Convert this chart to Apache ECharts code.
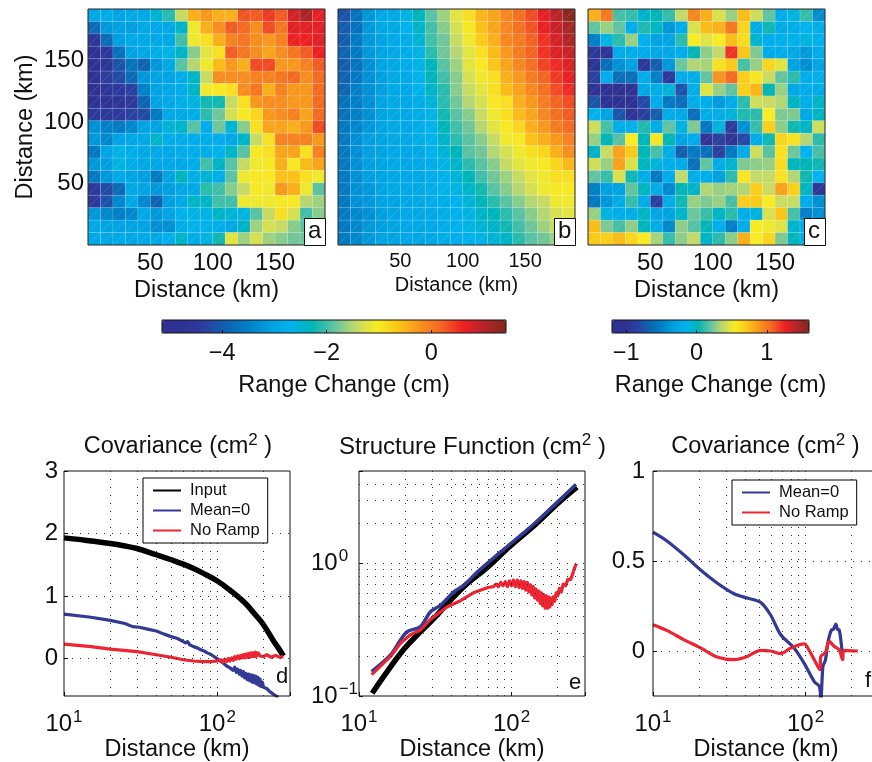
<!DOCTYPE html>
<html>
<head>
<meta charset="utf-8">
<style>
  html, body { margin: 0; padding: 0; background: #fff; }
  #chart { width: 872px; height: 762px; overflow: hidden; }
</style>
</head>
<body>
<div id="chart"></div>
<script src="https://cdn.jsdelivr.net/npm/echarts@6/dist/echarts.min.js"></script>
<script>
// range change (cm), rows run top to bottom
const dataA = [
  [-2.9,-2.8,-3.0,-2.9,-2.9,-2.5,-2.1,-1.4,-0.45,-0.25,-0.45,-0.45,0.3,0.25,0.45,0.25,0.8,1.1,0.65],
  [-3.8,-3.2,-3.1,-3.1,-2.9,-2.9,-2.9,-2.4,-1.1,-0.45,-0.15,0.25,0.15,-0.15,0.35,0.05,0.7,0.7,0.7],
  [-4.6,-3.8,-3.1,-2.9,-2.9,-2.9,-2.9,-2.0,-1.1,-0.9,-0.45,-0.05,0.05,-0.15,-0.25,-0.05,0.6,0.6,0.7],
  [-4.7,-4.5,-3.7,-3.0,-2.9,-2.8,-2.6,-2.4,-1.7,-1.2,-0.9,0.25,0.05,-0.15,-0.35,-0.15,0.05,0.25,0.6],
  [-4.7,-4.6,-4.1,-3.7,-3.9,-3.2,-2.9,-1.9,-1.5,-1.1,-0.55,-0.25,-0.45,0.35,0.35,-0.25,-0.25,-0.05,0.25],
  [-4.7,-4.4,-4.2,-3.8,-3.2,-3.0,-3.0,-2.8,-2.4,-1.4,-0.15,-0.15,-0.15,-0.05,-0.05,0.05,0.15,-0.15,0.15],
  [-4.7,-4.6,-4.5,-4.3,-3.5,-3.0,-2.9,-2.8,-2.4,-1.1,-1.0,-0.9,-0.15,0.05,-0.45,-0.05,-0.25,-0.25,0.15],
  [-4.7,-4.7,-4.6,-4.5,-3.9,-3.0,-2.9,-2.8,-2.6,-2.2,-2.2,-1.4,-0.9,-0.25,-0.15,-0.15,-0.25,-0.25,0.15],
  [-4.5,-4.5,-4.5,-4.3,-4.2,-3.6,-2.9,-2.9,-2.8,-2.1,-1.8,-1.3,-1.0,-0.8,-0.25,-0.15,-0.05,-0.35,0.15],
  [-3.3,-3.5,-3.6,-3.4,-3.0,-3.0,-2.5,-2.4,-1.9,-2.8,-1.8,-2.5,-1.7,-0.9,-0.35,-0.35,-0.45,-0.25,0.35],
  [-3.2,-3.4,-3.0,-2.9,-2.9,-2.4,-2.8,-2.8,-2.8,-2.8,-2.8,-2.9,-2.4,-1.4,-0.9,-0.05,-0.05,-0.05,-0.25],
  [-3.6,-3.0,-2.6,-2.8,-2.9,-2.9,-2.9,-2.8,-2.8,-2.8,-2.7,-2.4,-1.9,-1.0,-0.9,-0.35,-0.35,-0.9,-0.05],
  [-3.2,-3.1,-2.6,-2.8,-2.9,-2.9,-2.9,-2.9,-2.8,-2.0,-2.4,-1.9,-1.4,-1.1,-1.0,-0.45,-1.0,-0.55,-0.35],
  [-3.6,-3.2,-2.9,-3.0,-3.1,-3.6,-3.0,-2.3,-2.8,-2.5,-2.8,-1.9,-1.1,-1.0,-1.0,-0.6,-0.6,-0.9,-1.1],
  [-4.5,-4.2,-3.8,-2.9,-3.0,-3.2,-3.1,-2.9,-2.9,-2.1,-2.0,-1.7,-1.4,-1.0,-1.1,-0.25,-0.45,-1.1,-1.9],
  [-4.5,-4.1,-3.4,-2.9,-3.4,-3.9,-3.1,-2.9,-2.4,-2.4,-2.0,-2.0,-1.1,-1.1,-1.1,-1.0,-1.0,-1.5,-1.6],
  [-3.2,-3.4,-3.5,-3.4,-2.9,-3.2,-3.0,-2.7,-2.6,-2.6,-2.4,-2.5,-2.6,-1.9,-1.4,-0.9,-1.3,-2.0,-1.7],
  [-2.9,-3.0,-3.0,-3.0,-3.0,-3.3,-3.3,-2.8,-2.7,-2.7,-2.8,-2.9,-2.4,-1.6,-1.3,-1.4,-1.7,-1.9,-1.9],
  [-2.9,-2.9,-2.9,-2.9,-2.9,-2.9,-2.7,-2.4,-2.8,-2.6,-2.2,-1.2,-1.6,-1.3,-1.6,-1.7,-1.8,-1.8,-1.8]
]
const dataB = [
  [-4.1,-3.7,-3.2,-2.9,-2.9,-2.6,-2.3,-1.9,-1.6,-1.2,-0.9,-0.5,-0.35,-0.1,0.1,0.35,0.65,1.0,1.35],
  [-4.0,-3.7,-3.2,-2.9,-2.9,-2.7,-2.4,-2.0,-1.7,-1.3,-1.0,-0.6,-0.35,-0.1,0.1,0.3,0.65,0.9,1.15],
  [-4.0,-3.6,-3.2,-3.0,-2.9,-2.8,-2.5,-2.0,-1.8,-1.4,-1.1,-0.7,-0.45,-0.1,0.0,0.2,0.5,0.8,1.05],
  [-3.9,-3.6,-3.2,-3.0,-2.9,-2.8,-2.6,-2.1,-1.8,-1.5,-1.2,-0.9,-0.55,-0.25,0.0,0.2,0.5,0.75,0.9],
  [-4.0,-3.7,-3.3,-3.0,-2.9,-2.8,-2.6,-2.3,-1.9,-1.6,-1.2,-1.0,-0.65,-0.35,-0.1,0.1,0.4,0.55,0.75],
  [-3.9,-3.6,-3.3,-3.1,-2.9,-2.9,-2.7,-2.3,-2.0,-1.7,-1.3,-1.1,-0.9,-0.45,-0.25,0.0,0.2,0.45,0.65],
  [-3.9,-3.5,-3.3,-3.1,-2.9,-2.9,-2.7,-2.4,-2.1,-1.7,-1.4,-1.2,-0.9,-0.55,-0.35,-0.1,0.1,0.35,0.55],
  [-3.7,-3.5,-3.3,-3.0,-2.9,-2.9,-2.8,-2.5,-2.1,-1.8,-1.5,-1.3,-1.0,-0.9,-0.45,-0.25,0.0,0.2,0.35],
  [-3.7,-3.5,-3.3,-3.0,-2.9,-2.9,-2.8,-2.6,-2.2,-1.9,-1.7,-1.4,-1.1,-0.9,-0.55,-0.35,-0.1,0.1,0.25],
  [-3.6,-3.4,-3.2,-3.0,-2.9,-2.9,-2.8,-2.7,-2.3,-2.0,-1.8,-1.5,-1.2,-1.0,-0.8,-0.45,-0.25,0.0,0.15],
  [-3.6,-3.3,-3.1,-3.0,-2.9,-2.9,-2.8,-2.7,-2.4,-2.1,-1.9,-1.7,-1.4,-1.1,-1.0,-0.6,-0.45,-0.25,-0.05],
  [-3.6,-3.3,-3.1,-3.0,-2.9,-2.9,-2.9,-2.7,-2.5,-2.3,-1.9,-1.8,-1.5,-1.3,-1.1,-0.9,-0.8,-0.45,-0.15],
  [-3.6,-3.3,-3.1,-3.0,-2.9,-2.9,-2.9,-2.8,-2.6,-2.4,-2.1,-1.9,-1.7,-1.4,-1.2,-1.1,-1.0,-0.8,-0.5],
  [-3.6,-3.3,-3.1,-3.0,-2.9,-2.9,-2.9,-2.8,-2.7,-2.5,-2.3,-2.0,-1.8,-1.6,-1.4,-1.2,-1.1,-0.9,-0.9],
  [-3.6,-3.3,-3.2,-3.0,-2.9,-2.9,-2.9,-2.8,-2.7,-2.6,-2.4,-2.2,-1.9,-1.7,-1.5,-1.3,-1.1,-1.0,-1.0],
  [-3.6,-3.3,-3.2,-3.0,-3.0,-2.9,-2.9,-2.8,-2.8,-2.7,-2.5,-2.3,-2.1,-1.9,-1.7,-1.5,-1.4,-1.1,-1.1],
  [-3.6,-3.4,-3.3,-3.1,-3.0,-2.9,-2.9,-2.9,-2.8,-2.7,-2.6,-2.4,-2.3,-2.1,-1.9,-1.7,-1.5,-1.3,-1.2],
  [-3.6,-3.4,-3.2,-3.1,-3.0,-2.9,-2.9,-2.9,-2.8,-2.7,-2.6,-2.5,-2.4,-2.2,-2.0,-1.8,-1.6,-1.4,-1.4],
  [-3.6,-3.4,-3.2,-3.0,-3.0,-2.9,-2.9,-2.9,-2.8,-2.8,-2.7,-2.6,-2.5,-2.4,-2.1,-1.9,-1.8,-1.6,-1.5]
]
const dataC = [
  [.8,1.0,.15,.12,-.05,.02,.12,.38,.95,.8,.45,.3,.75,.42,.2,-.2,-.1,.12,-.42],
  [.2,.3,.2,-.2,.08,0,-.38,-.22,.45,.75,.8,1.0,.65,-.2,.05,-.22,-.2,-.15,-.2],
  [-.5,-.12,.1,.3,-.18,-.3,-.28,.1,.55,.48,.55,.75,.62,-.05,-.2,-.18,-.18,-.1,-.18],
  [-.95,-1,-.22,-.2,-.22,-.25,-.25,-.2,.03,.28,.38,1.2,.72,.25,-.22,-.2,-.25,-.35,-.22],
  [-1,-.6,-.4,-.32,-.95,-.7,-.38,.22,.35,.33,.6,.7,.15,.3,.65,.48,-.3,-.42,-.28],
  [-.85,-.2,-.6,-.6,-.2,-.5,-.95,-.2,-.2,.2,.9,1.05,.68,.58,.4,.2,.1,-.2,-.18],
  [-1,-1.05,-1.05,-1.05,-.25,-.2,-.08,-.75,-.2,.48,.3,.2,.68,.78,.03,.3,-.25,-.2,-.22],
  [-.75,-1.05,-1.05,-1.05,-.8,-.22,-.55,-.6,-.2,-.2,-.35,-.22,.1,.42,.4,.35,-.02,-.2,-.03],
  [-.15,-.3,-.75,-1,-.85,-.7,-.22,-.25,-.6,-.2,-.2,-.08,.08,.1,.55,.25,.25,-.25,-.02],
  [.42,.15,-.2,-.18,.08,-.2,.2,-.1,.25,-.55,-.1,-.9,-.4,.12,.68,.28,.05,-.02,.42],
  [.3,.03,.18,.55,.02,.58,.03,-.3,-.22,-1,-.85,-1,-.8,-.2,.05,.65,.6,.35,.1],
  [-.03,.4,.85,.7,.02,.15,-.2,-.7,-.55,-.6,-.85,-.55,-.22,.42,.18,.6,.22,-.15,.15],
  [.42,.3,.85,.45,0,-.08,-.2,-.22,-.6,.2,-.22,-.05,.25,.28,.3,.62,0,.02,.05],
  [.2,.12,.45,.05,-.2,-.55,-.2,.38,-.2,-.2,-.32,.1,.58,.38,.38,.6,.35,.05,-.15],
  [-.5,-.32,-.3,.2,0,-.2,-.45,.03,-.03,.35,.3,.32,.35,.68,.4,.85,.68,0,-.95],
  [-.55,-.38,-.22,.12,-.2,-.85,-.2,.05,.3,.25,.3,.15,.68,.7,.55,.4,.4,-.2,-.42],
  [.3,-.1,-.2,-.2,-.02,-.28,-.3,-.04,.22,.12,-.02,.1,-.2,-.1,.45,.72,.15,-.5,-.42],
  [.75,.25,.15,.28,0,-.2,-.45,.28,.18,.03,-.2,-.5,-.2,.55,.52,.48,-.05,-.2,-.2],
  [.7,.68,.75,.65,.55,.33,.12,.28,.38,-.03,.1,.28,.8,.55,.65,.25,0,-.2,-.2]
]

// [distance km, value]
const inputD = [[10,1.93],[12,1.91],[15,1.88],[20,1.84],[25,1.8],[30,1.76],[40,1.66],[50,1.58],[60,1.51],[70,1.44],[80,1.37],[100,1.24],[120,1.1],[150,.9],[180,.68],[200,.54],[230,.3],[250,.17],[270,.04]]
const meanD = [[10,.71],[15,.66],[20,.61],[25,.56],[28,.51],[31,.5],[35,.47],[40,.44],[45,.39],[50,.35],[55,.32],[60,.27],[62,.25],[64,.27],[66,.22],[68,.24],[70,.19],[72,.21],[74,.17],[76,.19],[78,.14],[80,.16],[82,.12],[84,.14],[86,.09],[88,.12],[90,.07],[92,.09],[94,.04],[96,.06],[98,.01],[100,.04],[103,-.03],[106,-.01],[109,-.07],[112,-.05],[115,-.12],[118,-.09],[121,-.15],[124,-.12],[127,-.19],[130,-.14],[133,-.22],[136,-.17],[139,-.25],[142,-.19],[145,-.28],[148,-.21],[151,-.31],[154,-.24],[157,-.34],[160,-.25],[163,-.36],[166,-.26],[169,-.38],[172,-.27],[175,-.39],[178,-.28],[181,-.41],[184,-.3],[187,-.43],[190,-.33],[193,-.45],[197,-.38],[200,-.46],[210,-.48],[220,-.53],[235,-.58],[250,-.62]]
const rampD = [[10,.23],[15,.19],[20,.15],[30,.11],[40,.06],[50,.02],[60,-.02],[70,-.04],[80,-.05],[90,-.05],[100,-.04],[103,-.07],[106,-.02],[109,-.06],[112,-.01],[115,-.05],[118,0],[121,-.04],[124,.01],[127,-.03],[130,.03],[133,-.01],[136,.04],[139,0],[142,.05],[145,.01],[148,.06],[151,.01],[154,.07],[157,.02],[160,.08],[163,.02],[166,.09],[169,.03],[172,.09],[175,.03],[178,.1],[181,.04],[185,.09],[190,.04],[195,.07],[200,.03],[210,.06],[225,.02],[240,.05],[255,.02],[270,.03]]

const inputE = [[12.2,.105],[15.3,.153],[20,.23],[25.3,.306],[31,.386],[39.9,.53],[51.3,.707],[66,.891],[99,1.37],[141,1.94],[200,2.83],[268,3.77]]
const meanE = [[12.1,.153],[16.1,.204],[18.7,.265],[20.7,.306],[25.3,.334],[29.4,.433],[34.3,.486],[41.9,.612],[48.8,.687],[59.8,.866],[84.6,1.22],[141,2.0],[200,2.91],[264,3.95]]
const rampE = [[12.1,.145],[16.1,.199],[18.7,.25],[21.6,.289],[25.3,.315],[29.4,.379],[37.9,.472],[46.3,.524],[56.9,.605],[69.9,.66],[76,.67],[79,.7],[82,.67],[85,.72],[88,.68],[91,.73],[94,.67],[97,.74],[100,.68],[103,.75],[106,.67],[109,.75],[112,.66],[115,.74],[118,.65],[121,.73],[124,.63],[127,.72],[130,.61],[133,.69],[136,.58],[139,.67],[142,.55],[145,.64],[148,.53],[151,.62],[154,.5],[157,.6],[160,.48],[163,.58],[166,.46],[169,.57],[172,.46],[175,.56],[178,.47],[181,.55],[184,.49],[188,.56],[192,.52],[196,.6],[201,.57],[206,.65],[212,.61],[218,.7],[226,.68],[234,.76],[244,.76],[252,.84],[258,.92],[266,1.0]]

const meanF = [[10,.66],[12.4,.61],[15.9,.535],[20.5,.45],[26.3,.378],[34,.318],[41.5,.294],[50.8,.27],[59,.2],[68.8,.09],[84,.017],[97.8,-.067],[114,-.17],[123,-.196],[126,-.27],[130,-.085],[135,-.05],[140,.045],[148,.118],[152,.12],[158,.15],[162,.12],[166,.118],[172,.03],[175,-.05]]
const rampF = [[10,.146],[12.4,.113],[15.9,.063],[20.5,.017],[26.3,-.033],[34,-.048],[41.5,-.03],[50.8,.004],[59,0],[68.8,-.015],[80,.017],[98,.04],[105,.007],[114,-.048],[124,-.104],[126,-.03],[135,-.008],[143,.054],[154,.026],[166,.007],[175,-.048],[178,.004],[220,0]]

const gridXLog = [20, 30, 40, 50, 60, 70, 80, 90, 100, 200]
const gridYD = [0, 1, 2]
const gridYE = [0.2, 0.3, 0.4, 0.5, 0.6, 0.7, 0.8, 0.9, 1, 2, 3, 4]
const gridYF = [0, 0.5]

const ticksBarA = [-4, -2, 0]
const ticksBarC = [-1, 0, 1]
const legendD = ['Input', 'Mean=0', 'No Ramp']
const legendF = ['Mean=0', 'No Ramp']

const rangeColors = ['#2e3192', '#2e3192', '#2b3f9f', '#0f63b0', '#0080c6', '#00a0e0', '#00b2ed', '#00b5b5', '#62c3a0', '#c1d96b', '#f7ec23', '#fbc416', '#f7941d', '#f26522', '#ed2024', '#b5242a', '#7f2a1d']
const BLUE = '#323a96'
const RED = '#ed2431'
const FONT = '"Liberation Sans", Arial, sans-serif'

// the maps run a little past 190 km on the vertical axis
const MAP_Y_MAX = 192
const CELL_Y = MAP_Y_MAX / 19

const chart = echarts.init(document.getElementById('chart'))

const toCells = (rows) => {
  const cells = []
  rows.forEach((row, r) => row.forEach((v, c) => cells.push([c * 10 + 5, (18.5 - r) * CELL_Y, v])))
  return cells
}

const renderCell = (params, api) => {
  const [cx, cy] = api.coord([api.value(0), api.value(1)])
  const [w, h] = api.size([10, CELL_Y])
  const x = cx - w / 2
  const y = cy - h / 2
  const color = api.visual('color')
  return {
    type: 'group',
    children: [
      {
        type: 'rect',
        shape: { x, y, width: w, height: h },
        style: { fill: color, stroke: 'rgba(255,255,255,0.16)', lineWidth: 0.7 }
      },
      {
        type: 'line',
        shape: { x1: x, y1: y + h, x2: x + w, y2: y },
        style: { stroke: 'rgba(255,255,255,0.24)', lineWidth: 0.6 }
      }
    ]
  }
}

const decadeLabel = (v) => {
  const p = Math.round(Math.log10(v) * 1000) / 1000
  if (!Number.isInteger(p)) return ''
  return '10{s|' + String(p).replace('-', '\u2212') + '}'
}

const logLabel = {
  fontFamily: FONT,
  fontSize: 24,
  color: '#111',
  formatter: decadeLabel,
  rich: { s: { fontSize: 17, fontFamily: FONT, color: '#111', padding: [0, 0, 14, 1] } }
}

const grid = []
const xAxis = []
const yAxis = []
const series = []

const addMap = (left, rows, opts) => {
  const i = grid.length
  grid.push({ left, top: 9, width: 237, height: 236, outerBoundsMode: 'none', show: true, z: 5, borderColor: '#222', borderWidth: 1, backgroundColor: 'transparent' })
  xAxis.push({
    type: 'value', gridIndex: i, min: 0, max: 190, interval: 50, z: 5,
    name: 'Distance (km)', nameLocation: 'middle', nameGap: opts.nameGap,
    nameTextStyle: { fontFamily: FONT, fontSize: opts.nameSize, color: '#111' },
    axisLine: { show: false }, axisTick: { show: false }, splitLine: { show: false },
    axisLabel: {
      fontFamily: FONT, fontSize: opts.labelSize, color: '#111', margin: 6,
      formatter: (v) => (v > 0 && v % 50 === 0 ? String(v) : '')
    }
  })
  yAxis.push({
    type: 'value', gridIndex: i, min: 0, max: MAP_Y_MAX, interval: 50, z: 5,
    name: opts.yName ? 'Distance (km)' : '', nameLocation: 'middle', nameGap: 50,
    nameTextStyle: { fontFamily: FONT, fontSize: 23.5, color: '#111' },
    axisLine: { show: false }, axisTick: { show: false }, splitLine: { show: false },
    axisLabel: {
      show: !!opts.yName, fontFamily: FONT, fontSize: 24, color: '#111', margin: 4,
      formatter: (v) => (v > 0 && v % 50 === 0 ? String(v) : '')
    }
  })
  series.push({
    type: 'custom', xAxisIndex: i, yAxisIndex: i, data: toCells(rows),
    renderItem: renderCell, encode: { x: 0, y: 1 }, z: 2, silent: true
  })
  return series.length - 1
}

const mapA = addMap(88, dataA, { nameGap: 34, nameSize: 23.5, labelSize: 24, yName: true })
const mapB = addMap(338, dataB, { nameGap: 30, nameSize: 20, labelSize: 20 })
const mapC = addMap(588, dataC, { nameGap: 34, nameSize: 23.5, labelSize: 24 })

const addColorbar = (left, width, min, max, ticks) => {
  const i = grid.length
  grid.push({ left, top: 320, width, height: 13, outerBoundsMode: 'none', show: true, z: 6, borderColor: '#111', borderWidth: 1, backgroundColor: 'transparent' })
  xAxis.push({
    type: 'value', gridIndex: i, min, max, z: 6,
    name: 'Range Change (cm)', nameLocation: 'middle', nameGap: 41,
    nameTextStyle: { fontFamily: FONT, fontSize: 23.5, color: '#111', padding: [0, 0, 0, 20] },
    axisLine: { show: false, onZero: false }, splitLine: { show: false },
    axisTick: { show: true, inside: true, length: 3, customValues: ticks, lineStyle: { color: '#111' } },
    axisLabel: {
      customValues: ticks, fontFamily: FONT, fontSize: 23.5, color: '#111', margin: 9,
      formatter: (v) => String(v).replace('-', '\u2212')
    }
  })
  yAxis.push({ type: 'value', gridIndex: i, show: false, min: 0, max: 1 })
}

addColorbar(162, 344, -5.15, 1.43, ticksBarA)
addColorbar(612, 197, -1.2, 1.6, ticksBarC)

const addPanel = (left, xMax, yOpts, gridX, gridY) => {
  const i = grid.length
  grid.push({ left, top: 471, width: 226, height: 225, outerBoundsMode: 'none', show: true, z: 5, borderColor: '#111', borderWidth: 1, backgroundColor: 'transparent' })
  xAxis.push({
    type: 'log', gridIndex: i, min: 10, max: xMax, z: 5,
    name: 'Distance (km)', nameLocation: 'middle', nameGap: 41,
    nameTextStyle: { fontFamily: FONT, fontSize: 23.5, color: '#111' },
    axisLine: { show: false, onZero: false }, splitLine: { show: false }, minorTick: { show: false },
    axisTick: { show: true, inside: true, length: 4, lineStyle: { color: '#111' } },
    axisLabel: { ...logLabel, margin: 13 }
  })
  yAxis.push({ gridIndex: i, z: 5, axisLine: { show: false, onZero: false }, splitLine: { show: false }, minorTick: { show: false }, ...yOpts })
  return {
    xAxisIndex: i,
    yAxisIndex: i,
    markLine: {
      silent: true, symbol: 'none', animation: false,
      label: { show: false },
      lineStyle: { type: [1, 7], color: '#333', width: 1 },
      data: gridX.map((x) => ({ xAxis: x })).concat(gridY.map((y) => ({ yAxis: y })))
    }
  }
}

const plainLine = (name, data, color, width, i, smooth) => ({
  type: 'line', name, data, xAxisIndex: i, yAxisIndex: i, showSymbol: false, symbol: 'none', smooth: smooth || false,
  lineStyle: { color, width, join: 'round' }, itemStyle: { color }, z: 3, silent: true
})

const linearY = (min, max, ticks, margin) => ({
  type: 'value', min, max,
  axisTick: { show: true, inside: true, length: 4, customValues: ticks, lineStyle: { color: '#111' } },
  axisLabel: { customValues: ticks, fontFamily: FONT, fontSize: 24, color: '#111', margin, formatter: (v) => String(v) }
})

const panelD = addPanel(64, 298, linearY(-0.6, 3, [0, 1, 2, 3], 6), gridXLog, gridYD)
series.push({ ...plainLine('Input', inputD, '#000', 5.5, panelD.xAxisIndex, 0.4), markLine: panelD.markLine })
series.push(plainLine('Mean=0', meanD, BLUE, 3.2, panelD.xAxisIndex))
series.push(plainLine('No Ramp', rampD, RED, 3.2, panelD.xAxisIndex))

const panelE = addPanel(359, 303, {
  type: 'log', min: 0.1, max: 5,
  axisTick: { show: true, inside: true, length: 4, lineStyle: { color: '#111' } },
  axisLabel: { ...logLabel, align: 'left', margin: 48 }
}, gridXLog, gridYE)
series.push({ ...plainLine('Input', inputE, '#000', 5.5, panelE.xAxisIndex, 0.4), markLine: panelE.markLine })
series.push(plainLine('Mean=0', meanE, BLUE, 3.5, panelE.xAxisIndex, 0.3))
series.push(plainLine('No Ramp', rampE, RED, 3.2, panelE.xAxisIndex))

const panelF = addPanel(653, 303, linearY(-0.25, 1, [0, 0.5, 1], 8), gridXLog, gridYF)
series.push({ ...plainLine('Mean=0', meanF, BLUE, 3.2, panelF.xAxisIndex, 0.3), markLine: panelF.markLine })
series.push(plainLine('No Ramp', rampF, RED, 3.2, panelF.xAxisIndex, 0.3))

const makeTitle = (text, center, size) => ({
  text: text + ' (cm{s|2} )',
  left: center, top: 427, textAlign: 'center',
  textStyle: {
    fontFamily: FONT, fontSize: size, fontWeight: 'normal', color: '#111',
    rich: { s: { fontFamily: FONT, fontSize: 17, color: '#111', padding: [0, 0, 13, 0] } }
  }
})

// itemHeight near zero leaves only the line in the key, no marker dot
const makeLegend = (data, left, top) => ({
  data, left, top, orient: 'vertical', selectedMode: false, z: 8,
  backgroundColor: '#fff', borderColor: '#000', borderWidth: 1,
  padding: [4, 8, 4, 9], itemWidth: 28, itemHeight: 0.1, itemGap: 3,
  textStyle: { fontFamily: FONT, fontSize: 16.5, color: '#111', padding: [0, 0, 0, 4] }
})

const cornerBox = (x, y, label) => [
  { type: 'rect', left: x, top: y, shape: { width: 21, height: 27 }, style: { fill: '#fff', stroke: '#111', lineWidth: 1 }, z: 20 },
  { type: 'text', left: x + 4, top: y + 1, style: { text: label, font: '24px ' + FONT, fill: '#111' }, z: 21 }
]
const cornerText = (x, y, label) => ({ type: 'text', left: x, top: y, style: { text: label, font: '22px ' + FONT, fill: '#111' }, z: 21 })

chart.setOption({
  animation: false,
  backgroundColor: '#fff',
  title: [
    makeTitle('Covariance', 173, 23.5),
    makeTitle('Structure Function', 467.5, 24),
    makeTitle('Covariance', 760.5, 23.5)
  ],
  legend: [makeLegend(legendD, 143, 478), makeLegend(legendF, 732, 480)],
  grid,
  xAxis,
  yAxis,
  visualMap: [
    {
      type: 'continuous', seriesIndex: [mapA, mapB], dimension: 2, min: -5.15, max: 1.43,
      orient: 'horizontal', left: 162, top: 320, itemWidth: 13, itemHeight: 344, padding: 0,
      text: null, calculable: false, hoverLink: false, z: 1,
      inRange: { color: rangeColors }
    },
    {
      type: 'continuous', seriesIndex: [mapC], dimension: 2, min: -1.2, max: 1.6,
      orient: 'horizontal', left: 612, top: 320, itemWidth: 13, itemHeight: 197, padding: 0,
      text: null, calculable: false, hoverLink: false, z: 1,
      inRange: { color: rangeColors }
    }
  ],
  graphic: [
    ...cornerBox(304, 218, 'a'),
    ...cornerBox(554, 218, 'b'),
    ...cornerBox(804, 218, 'c'),
    cornerText(276, 666, 'd'),
    cornerText(569, 672, 'e'),
    cornerText(865, 670, 'f')
  ],
  series
})
</script>
</body>
</html>
